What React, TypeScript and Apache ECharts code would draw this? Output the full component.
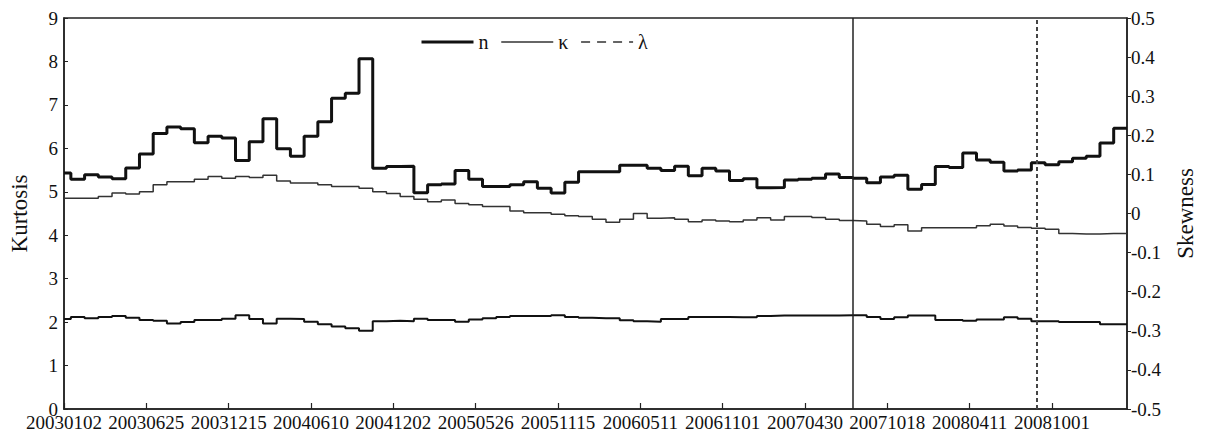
import React, { useEffect, useRef } from "react";
import * as echarts from "echarts";

// x tick labels (one every 6 periods)
const dateLabels = [
  "20030102", "20030625", "20031215", "20040610", "20041202", "20050526",
  "20051115", "20060511", "20061101", "20070430", "20071018", "20080411", "20081001",
];

// step values per period (left axis units)
const nValues = [
  5.43, 5.29, 5.39, 5.34, 5.30, 5.55, 5.87, 6.34, 6.49, 6.45, 6.13, 6.28, 6.24, 5.72, 6.15, 6.68,
  5.99, 5.82, 6.28, 6.61, 7.15, 7.27, 8.06, 5.54, 5.58, 5.59, 4.98, 5.16, 5.18, 5.49, 5.29, 5.12,
  5.12, 5.16, 5.23, 5.08, 4.97, 5.22, 5.46, 5.46, 5.46, 5.61, 5.61, 5.54, 5.49, 5.59, 5.37, 5.54,
  5.48, 5.26, 5.30, 5.09, 5.10, 5.27, 5.29, 5.31, 5.41, 5.33, 5.31, 5.21, 5.34, 5.38, 5.06, 5.17,
  5.58, 5.56, 5.89, 5.73, 5.68, 5.48, 5.50, 5.67, 5.62, 5.69, 5.77, 5.82, 6.12, 6.46,
];

const kappaValues = [
  4.85, 4.85, 4.85, 4.89, 4.97, 4.95, 5.00, 5.16, 5.23, 5.23, 5.29, 5.35, 5.31, 5.35, 5.33, 5.38,
  5.25, 5.20, 5.20, 5.16, 5.12, 5.12, 5.08, 5.00, 4.96, 4.89, 4.83, 4.77, 4.81, 4.73, 4.70, 4.66,
  4.66, 4.56, 4.52, 4.52, 4.48, 4.45, 4.43, 4.37, 4.30, 4.37, 4.50, 4.39, 4.40, 4.37, 4.31, 4.35,
  4.33, 4.31, 4.35, 4.40, 4.35, 4.43, 4.43, 4.41, 4.37, 4.34, 4.33, 4.25, 4.20, 4.24, 4.10, 4.17,
  4.17, 4.17, 4.17, 4.22, 4.25, 4.21, 4.18, 4.16, 4.14, 4.04, 4.03, 4.03, 4.04, 4.04,
];

const lowerValues = [
  2.07, 2.12, 2.09, 2.12, 2.14, 2.10, 2.05, 2.03, 1.97, 2.00, 2.05, 2.05, 2.08, 2.16, 2.07, 1.97,
  2.08, 2.07, 2.01, 1.95, 1.90, 1.86, 1.80, 2.02, 2.03, 2.02, 2.08, 2.05, 2.05, 2.01, 2.06, 2.09,
  2.12, 2.14, 2.14, 2.14, 2.16, 2.12, 2.10, 2.09, 2.09, 2.04, 2.02, 2.01, 2.07, 2.07, 2.12, 2.12,
  2.12, 2.11, 2.11, 2.14, 2.15, 2.15, 2.15, 2.15, 2.15, 2.16, 2.16, 2.12, 2.07, 2.11, 2.15, 2.15,
  2.05, 2.05, 2.03, 2.06, 2.06, 2.11, 2.08, 2.02, 2.02, 2.00, 2.00, 2.00, 1.95, 1.95,
];

// vertical marker positions (in periods)
const solidMarker = 57.5;
const dashedMarker = 70.9;

const X_MAX = 77.47;
const LABEL_EVERY = 6;
const FONT = "Liberation Serif";

function toSteps(values: number[]): [number, number][] {
  const pts: [number, number][] = values.map((v, i) => [i === 0 ? 0 : i - 0.5, v]);
  pts.push([X_MAX, values[values.length - 1]]);
  return pts;
}

export default function App() {
  const ref = useRef<HTMLDivElement>(null);
  useEffect(() => {
    if (!ref.current) return;
    const chart = echarts.init(ref.current, undefined, { renderer: "svg" });
    const textStyle = { fontFamily: FONT, fontSize: 19, color: "#111" };
    const legendText = { fontFamily: FONT, fontSize: 20, color: "#111" };
    const nameStyle = { fontFamily: FONT, fontSize: 23, color: "#111" };
    const hideSymbol = { opacity: 0, color: "transparent", borderWidth: 0 };
    chart.setOption({
      animation: false,
      backgroundColor: "#fff",
      textStyle: { fontFamily: FONT },
      grid: {
        left: 61, right: 83, top: 18, bottom: 29,
        show: true, borderColor: "#222", borderWidth: 1.5, backgroundColor: "transparent",
      },
      legend: {
        left: 420, top: 32, padding: 0,
        itemWidth: 52, itemHeight: 14, itemGap: 12,
        textStyle: { ...legendText },
        data: [
          { name: "n", lineStyle: { width: 3 }, itemStyle: hideSymbol },
          { name: "κ", lineStyle: { width: 1.5 }, itemStyle: hideSymbol },
          { name: "λ", lineStyle: { width: 1.5 }, itemStyle: hideSymbol },
        ],
      },
      xAxis: {
        type: "value", min: 0, max: X_MAX, interval: LABEL_EVERY,
        axisLine: { lineStyle: { color: "#222", width: 1.5 } },
        axisTick: { inside: true, length: 6, lineStyle: { color: "#222", width: 1.2 } },
        splitLine: { show: false },
        axisLabel: {
          ...textStyle, margin: 4, showMaxLabel: false,
          formatter: (v: number) => {
            const i = Math.round(v / LABEL_EVERY);
            return Math.abs(v - i * LABEL_EVERY) < 1e-6 && i < dateLabels.length ? dateLabels[i] : "";
          },
        },
      },
      yAxis: [
        {
          type: "value", min: 0, max: 9, interval: 1, position: "left",
          name: "Kurtosis", nameLocation: "middle", nameGap: 33, nameRotate: 90,
          nameTextStyle: { ...nameStyle },
          axisLine: { show: true, lineStyle: { color: "#222", width: 1.5 } },
          axisTick: { show: true, inside: true, length: 4, lineStyle: { color: "#222" } },
          splitLine: { show: false },
          axisLabel: { ...textStyle, margin: 6 },
        },
        {
          type: "value", min: -0.5, max: 0.5, interval: 0.1, position: "right",
          name: "Skewness", nameLocation: "middle", nameGap: 47, nameRotate: 90,
          nameTextStyle: { ...nameStyle },
          axisLine: { show: true, lineStyle: { color: "#222", width: 1.5 } },
          axisTick: { show: true, inside: false, length: 4, lineStyle: { color: "#222" } },
          splitLine: { show: false },
          axisLabel: {
            ...textStyle, margin: 4,
            formatter: (v: number) => {
              const r = Math.round(v * 10) / 10;
              return r === 0 ? "0" : r.toFixed(1);
            },
          },
        },
      ],
      series: [
        {
          name: "n", type: "line", step: "end", yAxisIndex: 0, symbol: "none",
          data: toSteps(nValues),
          lineStyle: { color: "#111", width: 3 }, itemStyle: { color: "#111" },
        },
        {
          name: "κ", type: "line", step: "end", yAxisIndex: 0, symbol: "none",
          data: toSteps(kappaValues),
          lineStyle: { color: "#333", width: 1.5 }, itemStyle: { color: "#333" },
          markLine: {
            symbol: "none", silent: true, label: { show: false },
            lineStyle: { color: "#222", width: 1.5, type: "solid" },
            data: [{ xAxis: solidMarker }],
          },
        },
        {
          name: "κ₂", type: "line", step: "end", yAxisIndex: 0, symbol: "none",
          data: toSteps(lowerValues),
          lineStyle: { color: "#111", width: 2 }, itemStyle: { color: "#111" },
        },
        {
          name: "λ", type: "line", yAxisIndex: 0, symbol: "none",
          data: [],
          lineStyle: { color: "#333", width: 1.5, type: [9, 7] }, itemStyle: { color: "#333" },
          markLine: {
            symbol: "none", silent: true, label: { show: false },
            lineStyle: { color: "#444", width: 2, type: [4, 3] },
            data: [{ xAxis: dashedMarker }],
          },
        },
      ],
    });
    return () => chart.dispose();
  }, []);
  return (
    <div
      ref={ref}
      style={{ position: "fixed", left: 0, top: 0, width: 1210, height: 438, background: "#fff" }}
    />
  );
}
